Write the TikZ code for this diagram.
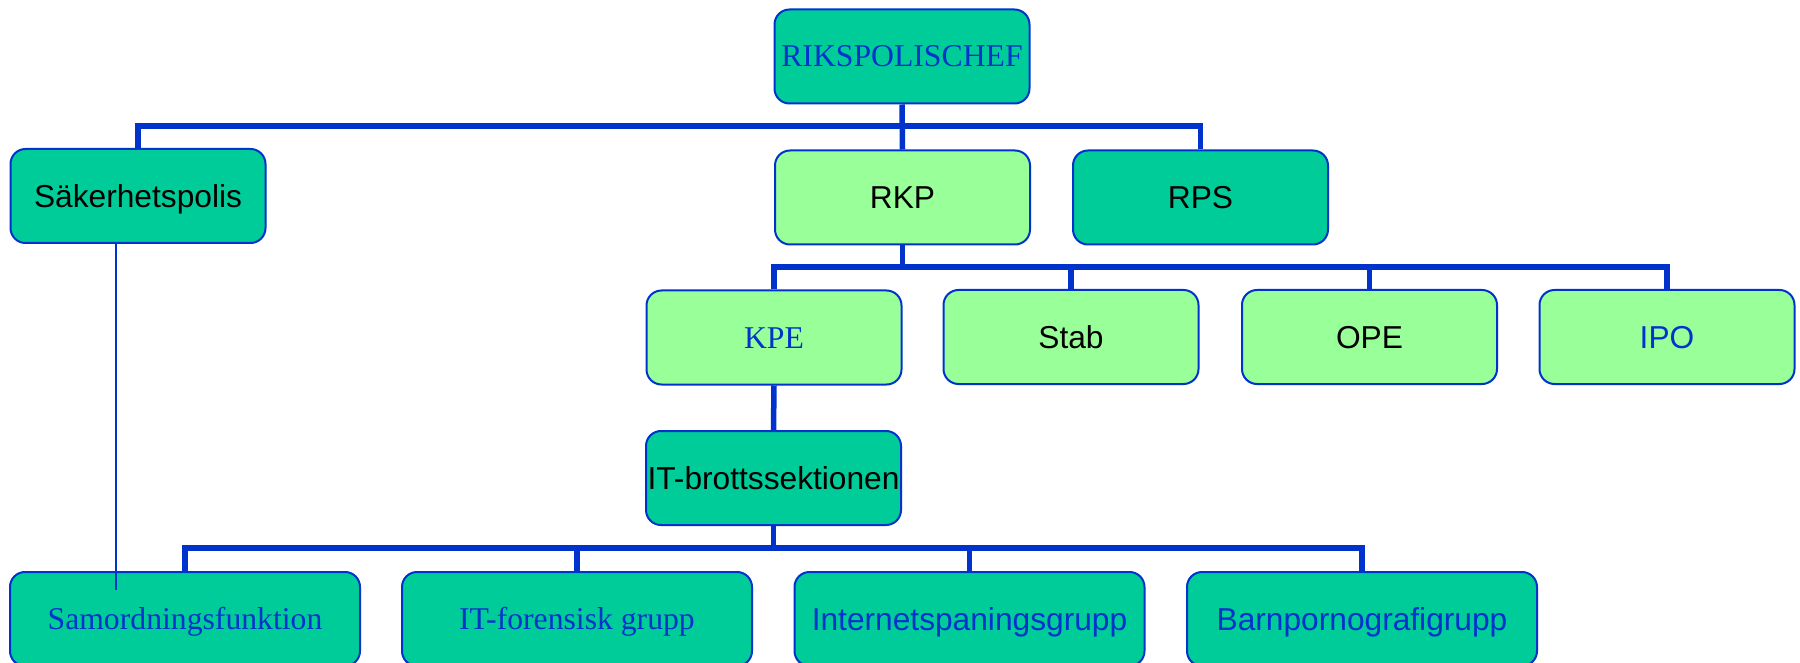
\documentclass[tikz,border=0pt]{standalone}
\usepackage{fontspec}
\setmainfont{Liberation Serif}
\newfontfamily\arialf{Liberation Sans}
\definecolor{dkg}{RGB}{0,204,153}
\definecolor{ltg}{RGB}{153,255,153}
\definecolor{bl}{RGB}{0,51,204}
\begin{document}
\begin{tikzpicture}[x=1pt,y=-1pt,
  box/.style={draw=bl, line width=2pt, rounded corners=15pt, inner sep=0pt,
    minimum width=255pt, minimum height=94pt, font=\fontsize{31.7}{38}\selectfont,
    text height=21pt, text depth=0pt},
  wide/.style={box, minimum width=350pt},
  dark/.style={fill=dkg}, light/.style={fill=ltg},
  sans/.style={font=\arialf\fontsize{31.7}{38}\selectfont, text height=22.7pt},
  blt/.style={text=bl}, blk/.style={text=black},
  conn/.style={draw=bl, line width=5.5pt},
  thin/.style={draw=bl, line width=2pt}]
\useasboundingbox (0,0) rectangle (1800,663);
\node[box,dark,blt] (rc) at (902,56.5) {RIKSPOLISCHEF};
\node[box,dark,sans,blk] (sak) at (138,196) {Säkerhetspolis};
\node[box,light,sans,blk] (rkp) at (902.5,197.5) {RKP};
\node[box,dark,sans,blk] (rps) at (1200.5,197.5) {RPS};
\node[box,light,blt] (kpe) at (774,337.5) {KPE};
\node[box,light,sans,blk] (stab) at (1071,337) {Stab};
\node[box,light,sans,blk] (ope) at (1369.5,337) {OPE};
\node[box,light,sans,blt] (ipo) at (1667,337) {IPO};
\node[box,dark,sans,blk] (it) at (773.5,478) {IT-brottssektionen};
\node[wide,dark,blt] (sam) at (185,619) {Samordningsfunktion};
\node[wide,dark,blt] (itf) at (577,619) {IT-forensisk grupp};
\node[wide,dark,sans,blt] (inet) at (969.5,619) {Internetspaningsgrupp};
\node[wide,dark,sans,blt] (barn) at (1362,619) {Barnpornografigrupp};
\coordinate (b1) at (0,126);
\coordinate (b2) at (0,267);
\coordinate (b3) at (0,548);
% level 1
\draw[conn] (rc.south) -- (rkp.north);
\draw[conn] (rc.south |- b1) -| (sak.north);
\draw[conn] (rc.south |- b1) -| (rps.north);
% level 2
\draw[conn] (rkp.south) -- (rkp.south |- b2) -| (kpe.north);
\draw[conn] (rkp.south |- b2) -| (stab.north);
\draw[conn] (rkp.south |- b2) -| (ope.north);
\draw[conn] (rkp.south |- b2) -| (ipo.north);
% KPE to IT
\draw[conn] (kpe.south) -- (it.north);
% level 3
\draw[conn] (it.south) -- (it.south |- b3) -| (sam.north);
\draw[conn] (it.south |- b3) -| (itf.north);
\draw[conn] (it.south |- b3) -| (inet.north);
\draw[conn] (it.south |- b3) -| (barn.north);
% thin line
\coordinate (thinend) at (116,590);
\draw[thin] (sak.south -| thinend) -- (thinend);
\end{tikzpicture}
\end{document}
